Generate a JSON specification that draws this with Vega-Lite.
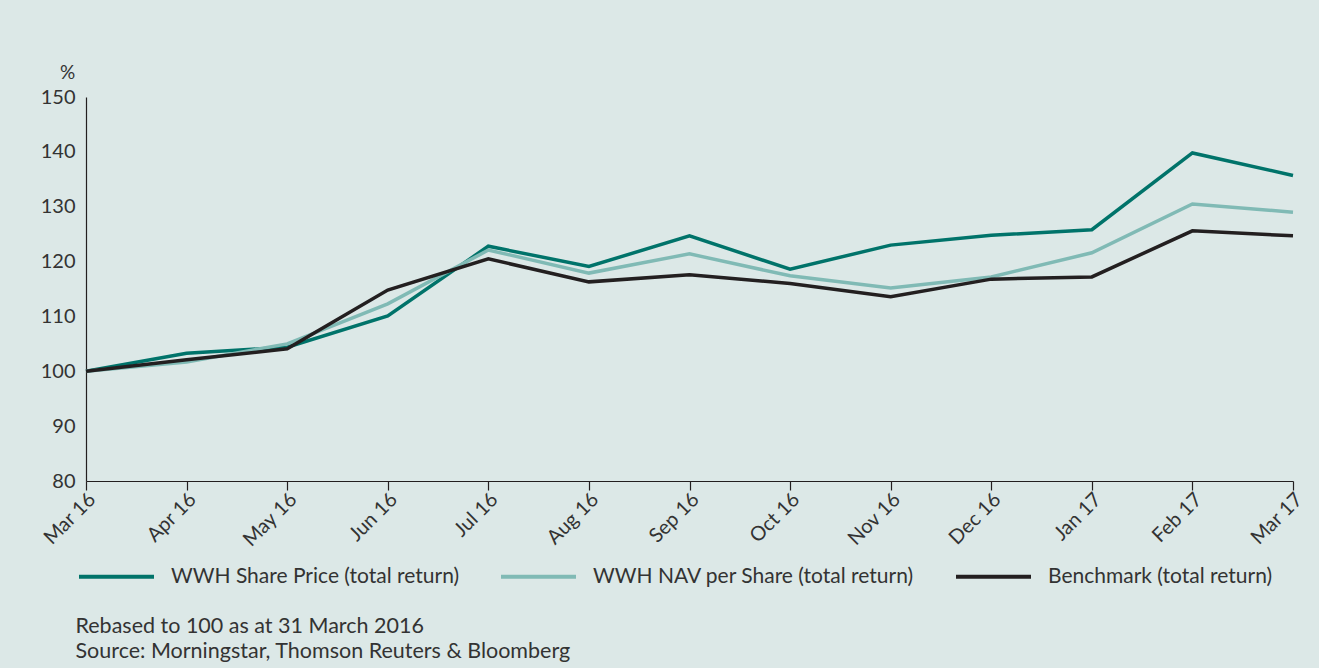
{
  "$schema": "https://vega.github.io/schema/vega-lite/v6.json",
  "width": 1207,
  "height": 384,
  "autosize": {"type": "none"},
  "padding": {"left": 86, "top": 97, "right": 26, "bottom": 187},
  "background": "#dce8e7",
  "config": {
    "font": "Lato",
    "view": {"stroke": null},
    "axis": {"labelColor": "#333333", "titleColor": "#333333", "domainColor": "#231f20", "tickColor": "#231f20", "grid": false, "labelFont": "Lato", "titleFont": "Lato"},
    "legend": {"labelFont": "Lato"}
  },
  "data": {
    "values": [
      {"month": "Mar 16", "series": "WWH Share Price (total return)", "value": 100},
      {"month": "Apr 16", "series": "WWH Share Price (total return)", "value": 103.3},
      {"month": "May 16", "series": "WWH Share Price (total return)", "value": 104.4},
      {"month": "Jun 16", "series": "WWH Share Price (total return)", "value": 110.1},
      {"month": "Jul 16", "series": "WWH Share Price (total return)", "value": 122.8},
      {"month": "Aug 16", "series": "WWH Share Price (total return)", "value": 119.1},
      {"month": "Sep 16", "series": "WWH Share Price (total return)", "value": 124.7},
      {"month": "Oct 16", "series": "WWH Share Price (total return)", "value": 118.6},
      {"month": "Nov 16", "series": "WWH Share Price (total return)", "value": 123.0},
      {"month": "Dec 16", "series": "WWH Share Price (total return)", "value": 124.8},
      {"month": "Jan 17", "series": "WWH Share Price (total return)", "value": 125.8},
      {"month": "Feb 17", "series": "WWH Share Price (total return)", "value": 139.8},
      {"month": "Mar 17", "series": "WWH Share Price (total return)", "value": 135.7},
      {"month": "Mar 16", "series": "WWH NAV per Share (total return)", "value": 100},
      {"month": "Apr 16", "series": "WWH NAV per Share (total return)", "value": 101.7},
      {"month": "May 16", "series": "WWH NAV per Share (total return)", "value": 105.0},
      {"month": "Jun 16", "series": "WWH NAV per Share (total return)", "value": 112.3},
      {"month": "Jul 16", "series": "WWH NAV per Share (total return)", "value": 122.1},
      {"month": "Aug 16", "series": "WWH NAV per Share (total return)", "value": 117.9},
      {"month": "Sep 16", "series": "WWH NAV per Share (total return)", "value": 121.4},
      {"month": "Oct 16", "series": "WWH NAV per Share (total return)", "value": 117.4},
      {"month": "Nov 16", "series": "WWH NAV per Share (total return)", "value": 115.2},
      {"month": "Dec 16", "series": "WWH NAV per Share (total return)", "value": 117.2},
      {"month": "Jan 17", "series": "WWH NAV per Share (total return)", "value": 121.6},
      {"month": "Feb 17", "series": "WWH NAV per Share (total return)", "value": 130.5},
      {"month": "Mar 17", "series": "WWH NAV per Share (total return)", "value": 129.0},
      {"month": "Mar 16", "series": "Benchmark (total return)", "value": 100},
      {"month": "Apr 16", "series": "Benchmark (total return)", "value": 102.1},
      {"month": "May 16", "series": "Benchmark (total return)", "value": 104.1},
      {"month": "Jun 16", "series": "Benchmark (total return)", "value": 114.8},
      {"month": "Jul 16", "series": "Benchmark (total return)", "value": 120.5},
      {"month": "Aug 16", "series": "Benchmark (total return)", "value": 116.3},
      {"month": "Sep 16", "series": "Benchmark (total return)", "value": 117.6},
      {"month": "Oct 16", "series": "Benchmark (total return)", "value": 116.0},
      {"month": "Nov 16", "series": "Benchmark (total return)", "value": 113.6},
      {"month": "Dec 16", "series": "Benchmark (total return)", "value": 116.8},
      {"month": "Jan 17", "series": "Benchmark (total return)", "value": 117.2},
      {"month": "Feb 17", "series": "Benchmark (total return)", "value": 125.6},
      {"month": "Mar 17", "series": "Benchmark (total return)", "value": 124.7}
    ]
  },
  "mark": {"type": "line", "strokeWidth": 3.5, "strokeJoin": "miter"},
  "encoding": {
    "x": {
      "field": "month",
      "type": "ordinal",
      "sort": ["Mar 16", "Apr 16", "May 16", "Jun 16", "Jul 16", "Aug 16", "Sep 16", "Oct 16", "Nov 16", "Dec 16", "Jan 17", "Feb 17", "Mar 17"],
      "scale": {"type": "point", "padding": 0},
      "axis": {
        "title": ["Rebased to 100 as at 31 March 2016", "Source: Morningstar, Thomson Reuters & Bloomberg"],
        "titleX": -11,
        "titleY": 151,
        "titleAlign": "left",
        "titleAnchor": null,
        "titleBaseline": "alphabetic",
        "titleFontSize": 21.5,
        "titleFontWeight": "normal",
        "titleLineHeight": 25,
        "labelAngle": -45,
        "labelAlign": "right",
        "labelBaseline": "middle",
        "labelFontSize": 20,
        "labelPadding": 6,
        "labelOffset": 6,
        "tickSize": 9,
        "tickWidth": 1.2,
        "domainWidth": 1.2
      }
    },
    "y": {
      "field": "value",
      "type": "quantitative",
      "scale": {"domain": [80, 150], "nice": false, "zero": false},
      "axis": {
        "title": "%",
        "titleAngle": 0,
        "titleX": -19,
        "titleY": -19,
        "titleAlign": "center",
        "titleBaseline": "alphabetic",
        "titleFontSize": 19,
        "titleFontWeight": "normal",
        "values": [80, 90, 100, 110, 120, 130, 140, 150],
        "ticks": false,
        "labelPadding": 11,
        "labelFontSize": 20,
        "domainWidth": 1.2
      }
    },
    "color": {
      "field": "series",
      "type": "nominal",
      "sort": ["WWH Share Price (total return)", "WWH NAV per Share (total return)", "Benchmark (total return)"],
      "scale": {
        "domain": ["WWH Share Price (total return)", "WWH NAV per Share (total return)", "Benchmark (total return)"],
        "range": ["#00736a", "#80bab5", "#231f20"]
      },
      "legend": {
        "title": null,
        "orient": "none",
        "legendX": -9,
        "legendY": 440,
        "direction": "horizontal",
        "columns": 3,
        "symbolType": "stroke",
        "symbolSize": 5625,
        "symbolStrokeWidth": 4,
        "labelFontSize": 21,
        "labelColor": "#333333",
        "labelOffset": 15,
        "labelLimit": 400,
        "columnPadding": 33
      }
    }
  }
}
